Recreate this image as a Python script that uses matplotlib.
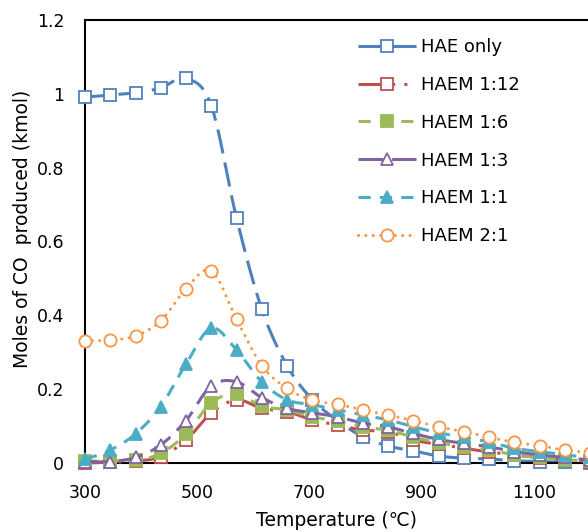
import numpy as np
import matplotlib.pyplot as plt
from matplotlib.lines import Line2D

plt.rcParams['font.family'] = ['DejaVu Sans']

temps = [300, 345, 390, 435, 480, 525, 570, 615, 660, 705, 750,
         795, 840, 885, 930, 975, 1020, 1065, 1110, 1155, 1200]

hae_only = [0.991, 0.997, 1.003, 1.016, 1.042, 0.968, 0.664, 0.417, 0.264, 0.172, 0.115,
            0.071, 0.046, 0.033, 0.019, 0.013, 0.011, 0.006, 0.004, 0.002, 0.001]
haem_1_12 = [0.0, 0.002, 0.005, 0.017, 0.062, 0.135, 0.171, 0.148, 0.139, 0.117, 0.103,
             0.089, 0.085, 0.062, 0.051, 0.040, 0.030, 0.022, 0.014, 0.008, 0.004]
haem_1_6 = [0.005, 0.006, 0.008, 0.026, 0.079, 0.163, 0.187, 0.154, 0.144, 0.125, 0.114,
            0.098, 0.089, 0.070, 0.055, 0.044, 0.035, 0.022, 0.015, 0.009, 0.005]
haem_1_3 = [0.004, 0.004, 0.015, 0.049, 0.115, 0.209, 0.220, 0.177, 0.148, 0.136, 0.125,
            0.108, 0.098, 0.080, 0.064, 0.053, 0.044, 0.031, 0.022, 0.015, 0.008]
haem_1_1 = [0.010, 0.035, 0.079, 0.153, 0.268, 0.365, 0.306, 0.220, 0.171, 0.158, 0.144,
            0.130, 0.117, 0.098, 0.082, 0.070, 0.057, 0.040, 0.031, 0.022, 0.015]
haem_2_1 = [0.331, 0.333, 0.344, 0.385, 0.472, 0.521, 0.390, 0.264, 0.202, 0.170, 0.159,
            0.144, 0.130, 0.115, 0.098, 0.085, 0.070, 0.056, 0.047, 0.035, 0.028]

labels = ['HAE only', 'HAEM 1:12', 'HAEM 1:6', 'HAEM 1:3', 'HAEM 1:1', 'HAEM 2:1']
series = [hae_only, haem_1_12, haem_1_6, haem_1_3, haem_1_1, haem_2_1]
colors = ['#4F81BD', '#C0504D', '#9BBB59', '#8064A2', '#4BACC6', '#F79646']
dashes = [(0, (8, 3)), (0, (8, 3, 1, 3, 1, 3)), (0, (4, 3)), (0, (8, 3)),
          (0, (4, 3)), (0, (0.01, 2.4))]
markers = ['s', 's', 's', '^', '^', 'o']
filled = [False, False, True, False, True, False]
msizes = [8.5, 8.3, 8.3, 9.3, 9.3, 8.8]


def smooth(x, y, n=20):
    # Catmull-Rom style curve through every point (spreadsheet "smoothed line")
    x = np.asarray(x, float)
    y = np.asarray(y, float)
    px = np.concatenate([[x[0]], x, [x[-1]]])
    py = np.concatenate([[y[0]], y, [y[-1]]])
    t = np.linspace(0, 1, n, endpoint=False)
    xs, ys = [], []
    for i in range(1, len(px) - 2):
        for p, out in ((px, xs), (py, ys)):
            p0, p1, p2, p3 = p[i - 1], p[i], p[i + 1], p[i + 2]
            c1 = p1 + (p2 - p0) / 6
            c2 = p2 - (p3 - p1) / 6
            out.extend((1 - t) ** 3 * p1 + 3 * (1 - t) ** 2 * t * c1
                       + 3 * (1 - t) * t ** 2 * c2 + t ** 3 * p2)
    xs.append(x[-1])
    ys.append(y[-1])
    return np.array(xs), np.array(ys)


fig = plt.figure(figsize=(5.88, 5.32), dpi=100)
ax = fig.add_axes([85 / 588, 1 - 463 / 532, (590 - 85) / 588, (463 - 20) / 532])

handles = []
for k, (vals, lab, col, ls, mk, fill, ms) in enumerate(
        zip(series, labels, colors, dashes, markers, filled, msizes)):
    sx, sy = smooth(temps, vals)
    cap = 'round' if k == 5 else 'butt'
    ax.plot(sx, sy, color=col, lw=2.2, linestyle=ls, dash_capstyle=cap,
            zorder=2 + 2 * k, clip_on=False)
    fc = col if fill else 'white'
    ax.plot(temps, vals, linestyle='none', marker=mk, ms=ms, mfc=fc, mec=col,
            mew=1.3, zorder=3 + 2 * k, clip_on=False)
    handles.append(Line2D([], [], color=col, lw=2.2, linestyle=ls, dash_capstyle=cap,
                          marker=mk, ms=ms, mfc=fc, mec=col, mew=1.3))

ax.set_xlim(300, 1200)
ax.set_ylim(0, 1.2)
ax.set_xticks([300, 500, 700, 900, 1100])
ax.set_yticks([0, 0.2, 0.4, 0.6, 0.8, 1.0, 1.2])
ax.set_yticklabels(['0', '0.2', '0.4', '0.6', '0.8', '1', '1.2'])
ax.tick_params(axis='both', length=0, labelsize=12.5, colors='#000000')
ax.tick_params(axis='y', pad=15)
ax.tick_params(axis='x', pad=15)
for side in ['left', 'bottom', 'top']:
    ax.spines[side].set_linewidth(1.5)
ax.spines['right'].set_visible(False)

fig.text(337 / 588, 1 - 520 / 532, 'Temperature (℃)', ha='center', va='center',
         fontsize=13.5)
fig.text(23 / 588, 1 - 229 / 532, 'Moles of CO  produced (kmol)', ha='center',
         va='center', rotation=90, fontsize=13.5)

ax.legend(handles, labels, loc='upper left', bbox_to_anchor=(349 / 588, 1 - 29 / 532),
          bbox_transform=fig.transFigure, frameon=False, fontsize=13,
          handlelength=3.2, handletextpad=0.3, labelspacing=1.1, borderpad=0)

fig.savefig('out.png', dpi=100)
